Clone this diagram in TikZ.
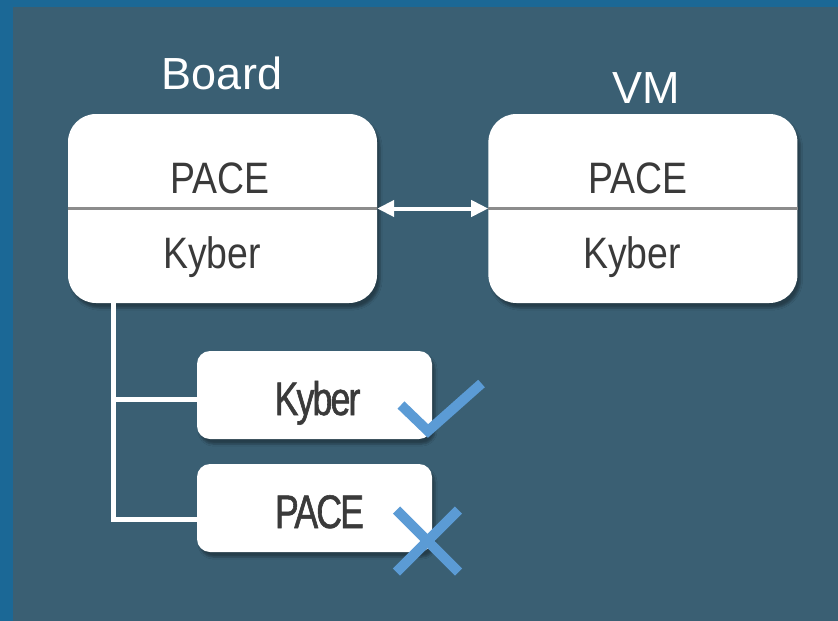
\documentclass[tikz,border=0pt]{standalone}
\usepackage{fontspec}
\setmainfont{Liberation Sans}
\newfontfamily\narrowfont[FakeStretch=0.85]{Liberation Sans}
\newfontfamily\tightfont[FakeStretch=0.76, FakeBold=1.2, LetterSpace=-4]{Liberation Sans}
\usepackage{xcolor}
\definecolor{frameBlue}{HTML}{1B6896}
\definecolor{panelSlate}{HTML}{3A5F73}
\definecolor{tickBlue}{HTML}{5B9BD5}
\definecolor{inkGray}{HTML}{3A3A3A}
\definecolor{ruleGray}{HTML}{8C8C8C}
\usetikzlibrary{arrows.meta, positioning, shadows.blur}

\begin{document}
\begin{tikzpicture}[
    x=1pt, y=-1pt,
    node distance=111pt,
    host/.style={rectangle, rounded corners=28pt, fill=white,
                 minimum width=309pt, minimum height=189pt, inner sep=0pt,
                 blur shadow={shadow xshift=3pt, shadow yshift=-5pt, shadow opacity=35}},
    algo/.style={rectangle, rounded corners=13pt, fill=white,
                 minimum width=235pt, minimum height=88pt, inner sep=0pt,
                 blur shadow={shadow xshift=3pt, shadow yshift=-5pt, shadow opacity=35}},
    title/.style={anchor=base, text=white, inner sep=0pt, font=\fontsize{45}{50}\selectfont},
    layer/.style={anchor=base, text=inkGray, inner sep=0pt, font=\narrowfont\fontsize{44}{48}\selectfont},
    pick/.style ={anchor=base, text=inkGray, inner sep=0pt, font=\tightfont\fontsize{47}{50}\selectfont},
    divider/.style={draw=ruleGray, line width=3pt},
    link/.style={{Triangle[length=17pt,width=16pt]}-{Triangle[length=17pt,width=16pt]},
                 draw=white, line width=4pt},
    branch/.style={draw=white, line width=4.5pt},
    verdict/.style={draw=tickBlue, line width=10pt}
]
\useasboundingbox (0,0) rectangle (838,621);
\fill[frameBlue] (0,0) rectangle (838,621);
\fill[panelSlate] (13,7) rectangle (838,621);

\node[host] (board) at (222.5,208.5) {};
\node[host, right=of board] (vm) {};
\draw[divider] (board.west) -- (board.east);
\draw[divider] (vm.west) -- (vm.east);

\node[title] (boardlbl) at (222,89) {Board};
\node[title] (vmlbl) at (646,103) {VM};
\node[layer] (boardpace) at (220,193) {PACE};
\node[layer] (boardkyber) at (212,268) {Kyber};
\node[layer] (vmpace) at (638,193) {PACE};
\node[layer] (vmkyber) at (632,268) {Kyber};

\draw[link] (board.east) -- (vm.west);

\node[algo] (kyb) at (314.5,395) {};
\node[algo] (pac) at (314.5,508) {};
\node[pick] (kyblbl) at (317.5,415) {Kyber};
\node[pick] (paclbl) at (319.5,528) {PACE};

\coordinate (root) at (113.5,303);
\draw[branch] (root) |- ([yshift=-4.5pt]kyb.west);
\draw[branch] (root) |- ([yshift=-11.5pt]pac.west);

\draw[verdict] (401,405) -- (428,431) -- (481.5,383.5);
\draw[verdict] (396.5,510) -- (458.5,572);
\draw[verdict] (458.5,510) -- (396.5,572);
\end{tikzpicture}
\end{document}
